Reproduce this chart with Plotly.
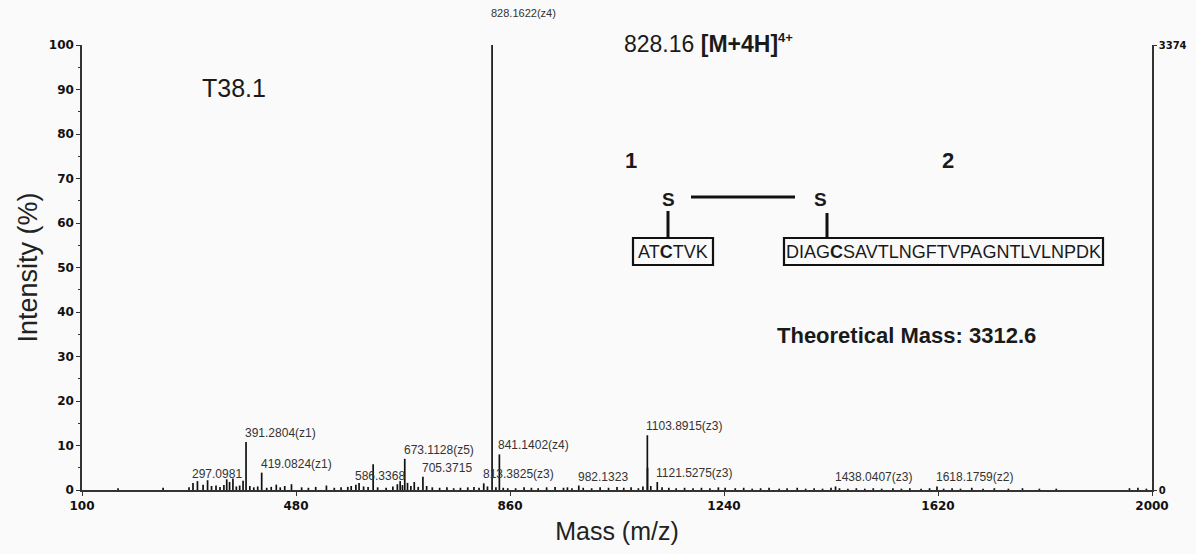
import plotly.graph_objects as go

# ---------------- data ----------------
peak_mz = [297.0981, 391.2804, 419.0824, 586.3368, 673.1128, 705.3715, 813.3825,
           828.1622, 841.1402, 982.1323, 1103.8915, 1121.5275, 1438.0407, 1618.1759]
peak_int = [1.6, 10.8, 3.9, 1.2, 7.0, 3.0, 1.5,
            100.0, 8.0, 1.0, 12.3, 1.8, 0.8, 0.8]
peak_lbl = ["297.0981", "391.2804(z1)", "419.0824(z1)", "586.3368", "673.1128(z5)",
            "705.3715", "813.3825(z3)", "828.1622(z4)", "841.1402(z4)", "982.1323",
            "1103.8915(z3)", "1121.5275(z3)", "1438.0407(z3)", "1618.1759(z2)"]

noise_mz = [164, 244, 290, 305, 315, 323, 330, 338, 345, 352, 357, 362, 368, 374, 380,
            386, 398, 405, 412, 428, 436, 445, 452, 460, 472, 490, 502, 515, 534, 548,
            560, 572, 578, 592, 600, 608, 617, 625, 640, 652, 660, 665, 669, 678, 684,
            690, 697, 712, 722, 735, 748, 760, 772, 785, 796, 805, 820, 835, 848, 856,
            870, 885, 898, 910, 925, 940, 955, 962, 970, 990, 1005, 1020, 1035, 1050,
            1062, 1075, 1088, 1096, 1104.2, 1110, 1130, 1142, 1155, 1170, 1185, 1200,
            1215, 1230, 1242, 1260, 1275, 1290, 1305, 1320, 1338, 1352, 1370, 1385,
            1400, 1415, 1430, 1445, 1460, 1475, 1490, 1505, 1520, 1540, 1555, 1570,
            1590, 1605, 1630, 1645, 1660, 1680, 1700, 1720, 1745, 1770, 1800, 1830,
            1960, 1975, 1990]
noise_int = [0.4, 0.5, 0.6, 2.0, 1.2, 2.2, 0.9, 1.0, 0.7, 1.1, 2.4, 1.8, 2.6, 0.8, 1.0,
             2.1, 0.9, 0.6, 0.8, 0.5, 0.7, 1.2, 0.6, 0.9, 1.3, 0.6, 0.5, 0.7, 1.0, 0.5,
             0.6, 0.7, 0.9, 1.6, 0.8, 0.7, 5.8, 0.6, 0.5, 0.8, 1.3, 2.0, 1.1, 1.6, 0.9,
             1.8, 0.7, 0.9, 0.6, 0.5, 0.6, 0.4, 0.5, 0.6, 0.7, 0.5, 0.8, 0.6, 0.5, 0.4,
             0.4, 0.6, 0.5, 0.4, 0.6, 0.7, 0.5, 0.6, 0.4, 0.5, 0.4, 0.6, 0.5, 0.7,
             0.5, 0.6, 0.4, 0.8, 5.0, 0.9, 0.6, 0.5, 0.4, 0.5, 0.4, 0.5,
             0.4, 0.6, 0.5, 0.4, 0.5, 0.3, 0.4, 0.5, 0.3, 0.4, 0.5, 0.3,
             0.4, 0.3, 0.5, 0.4, 0.3, 0.4, 0.3, 0.4, 0.3, 0.4, 0.3, 0.4,
             0.3, 0.4, 0.3, 0.4, 0.3, 0.5, 0.3, 0.4, 0.3, 0.4, 0.3, 0.3,
             0.4, 0.5, 0.3]

x_ticks = [100, 480, 860, 1240, 1620, 2000]
y2_max = 3374

# ---------------- figure ----------------
xs, ys = [], []
for m, h in zip(list(noise_mz) + list(peak_mz), list(noise_int) + list(peak_int)):
    xs += [m, m, None]
    ys += [0, h, None]

fig = go.Figure()
fig.add_trace(go.Scatter(x=xs, y=ys, mode="lines", line=dict(color="#111111", width=1.7),
                         hoverinfo="skip", showlegend=False))
fig.add_trace(go.Scatter(x=[x_ticks[0]], y=[0], yaxis="y2", mode="markers",
                         marker=dict(opacity=0), hoverinfo="skip", showlegend=False))

L, R, T, B = 82, 1152, 45, 490
W, H = 1196, 554


def px(x):
    return (x - L) / (R - L)


def py(y):
    return (B - y) / (B - T)


tickfont = dict(family="DejaVu Sans", size=12, color="#111111", weight="bold")
axcol = "#333333"

fig.update_layout(
    width=W, height=H,
    margin=dict(l=L, r=W - R, t=T, b=H - B, autoexpand=False),
    paper_bgcolor="#fafafa", plot_bgcolor="#fafafa",
    xaxis=dict(range=[x_ticks[0], x_ticks[-1]], tickvals=x_ticks, showline=True,
               linecolor=axcol, linewidth=1.5, ticks="outside", ticklen=4,
               tickcolor=axcol, tickfont=tickfont, showgrid=False, zeroline=False,
               automargin=False,
               title=dict(text="Mass (m/z)", font=dict(family="Liberation Sans", size=25, color="#222"),
                          standoff=10)),
    yaxis=dict(range=[0, 100], dtick=10, showline=True, linecolor=axcol, linewidth=1.5,
               ticks="outside", ticklen=4, tickcolor=axcol, tickfont=tickfont,
               minor=dict(dtick=5, ticks="outside", ticklen=2, tickcolor=axcol),
               showgrid=False, zeroline=False, automargin=False,
               title=dict(text="Intensity (%)", font=dict(family="Liberation Sans", size=27, color="#222"),
                          standoff=3)),
    yaxis2=dict(range=[0, y2_max], overlaying="y", side="right", tickvals=[0, y2_max],
                showline=True, linecolor=axcol, linewidth=1.5, ticks="outside", ticklen=3,
                tickcolor=axcol, tickfont=dict(family="DejaVu Sans", size=10, color="#111", weight="bold"),
                showgrid=False, zeroline=False, automargin=False),
)

# peak labels
for m, h, t in zip(peak_mz, peak_int, peak_lbl):
    big = h >= 99
    fig.add_annotation(x=m, y=h, xref="x", yref="y", text=t, showarrow=False,
                       xanchor="left", yanchor="bottom", xshift=-3,
                       yshift=24 if big else 0,
                       font=dict(family="Liberation Sans", size=11 if big else 12, color="#333333"))

# free text
def txt(x, y, text, size, bold=False, anchor="center", family="Liberation Sans"):
    fig.add_annotation(x=px(x), y=py(y), xref="paper", yref="paper", text=text,
                       showarrow=False, xanchor=anchor, yanchor="middle",
                       font=dict(family=family, size=size, color="#1a1a1a",
                                 weight="bold" if bold else "normal"))

txt(234, 88, "T38.1", 25)
txt(622, 44, "828.16 <b>[M+4H]</b><sup><b><span style='font-size:13px'>4+</span></b></sup>", 23, anchor="left")
txt(631, 161, "1", 22, bold=True)
txt(948, 161, "2", 22, bold=True)
txt(668, 199, "S", 19, bold=True)
txt(820, 199, "S", 19, bold=True)
txt(673, 252, "AT<b>C</b>TVK", 18)
txt(943, 252, "DIAG<b>C</b>SAVTLNGFTVPAGNTLVLNPDK", 18)
txt(906, 335, "Theoretical Mass: 3312.6", 22, bold=True)

# structure lines
def seg(x0, y0, x1, y1, w=3):
    fig.add_shape(type="line", xref="paper", yref="paper", x0=px(x0), y0=py(y0),
                  x1=px(x1), y1=py(y1), line=dict(color="#111", width=w))

def box(x0, y0, x1, y1):
    fig.add_shape(type="rect", xref="paper", yref="paper", x0=px(x0), y0=py(y0),
                  x1=px(x1), y1=py(y1), line=dict(color="#111", width=2.2))

seg(691, 197, 795, 197)
seg(668, 211, 668, 238)
seg(827, 213, 827, 238)
box(633, 238, 713, 265)
box(784, 238, 1103, 265)

fig.write_html("out.html")
